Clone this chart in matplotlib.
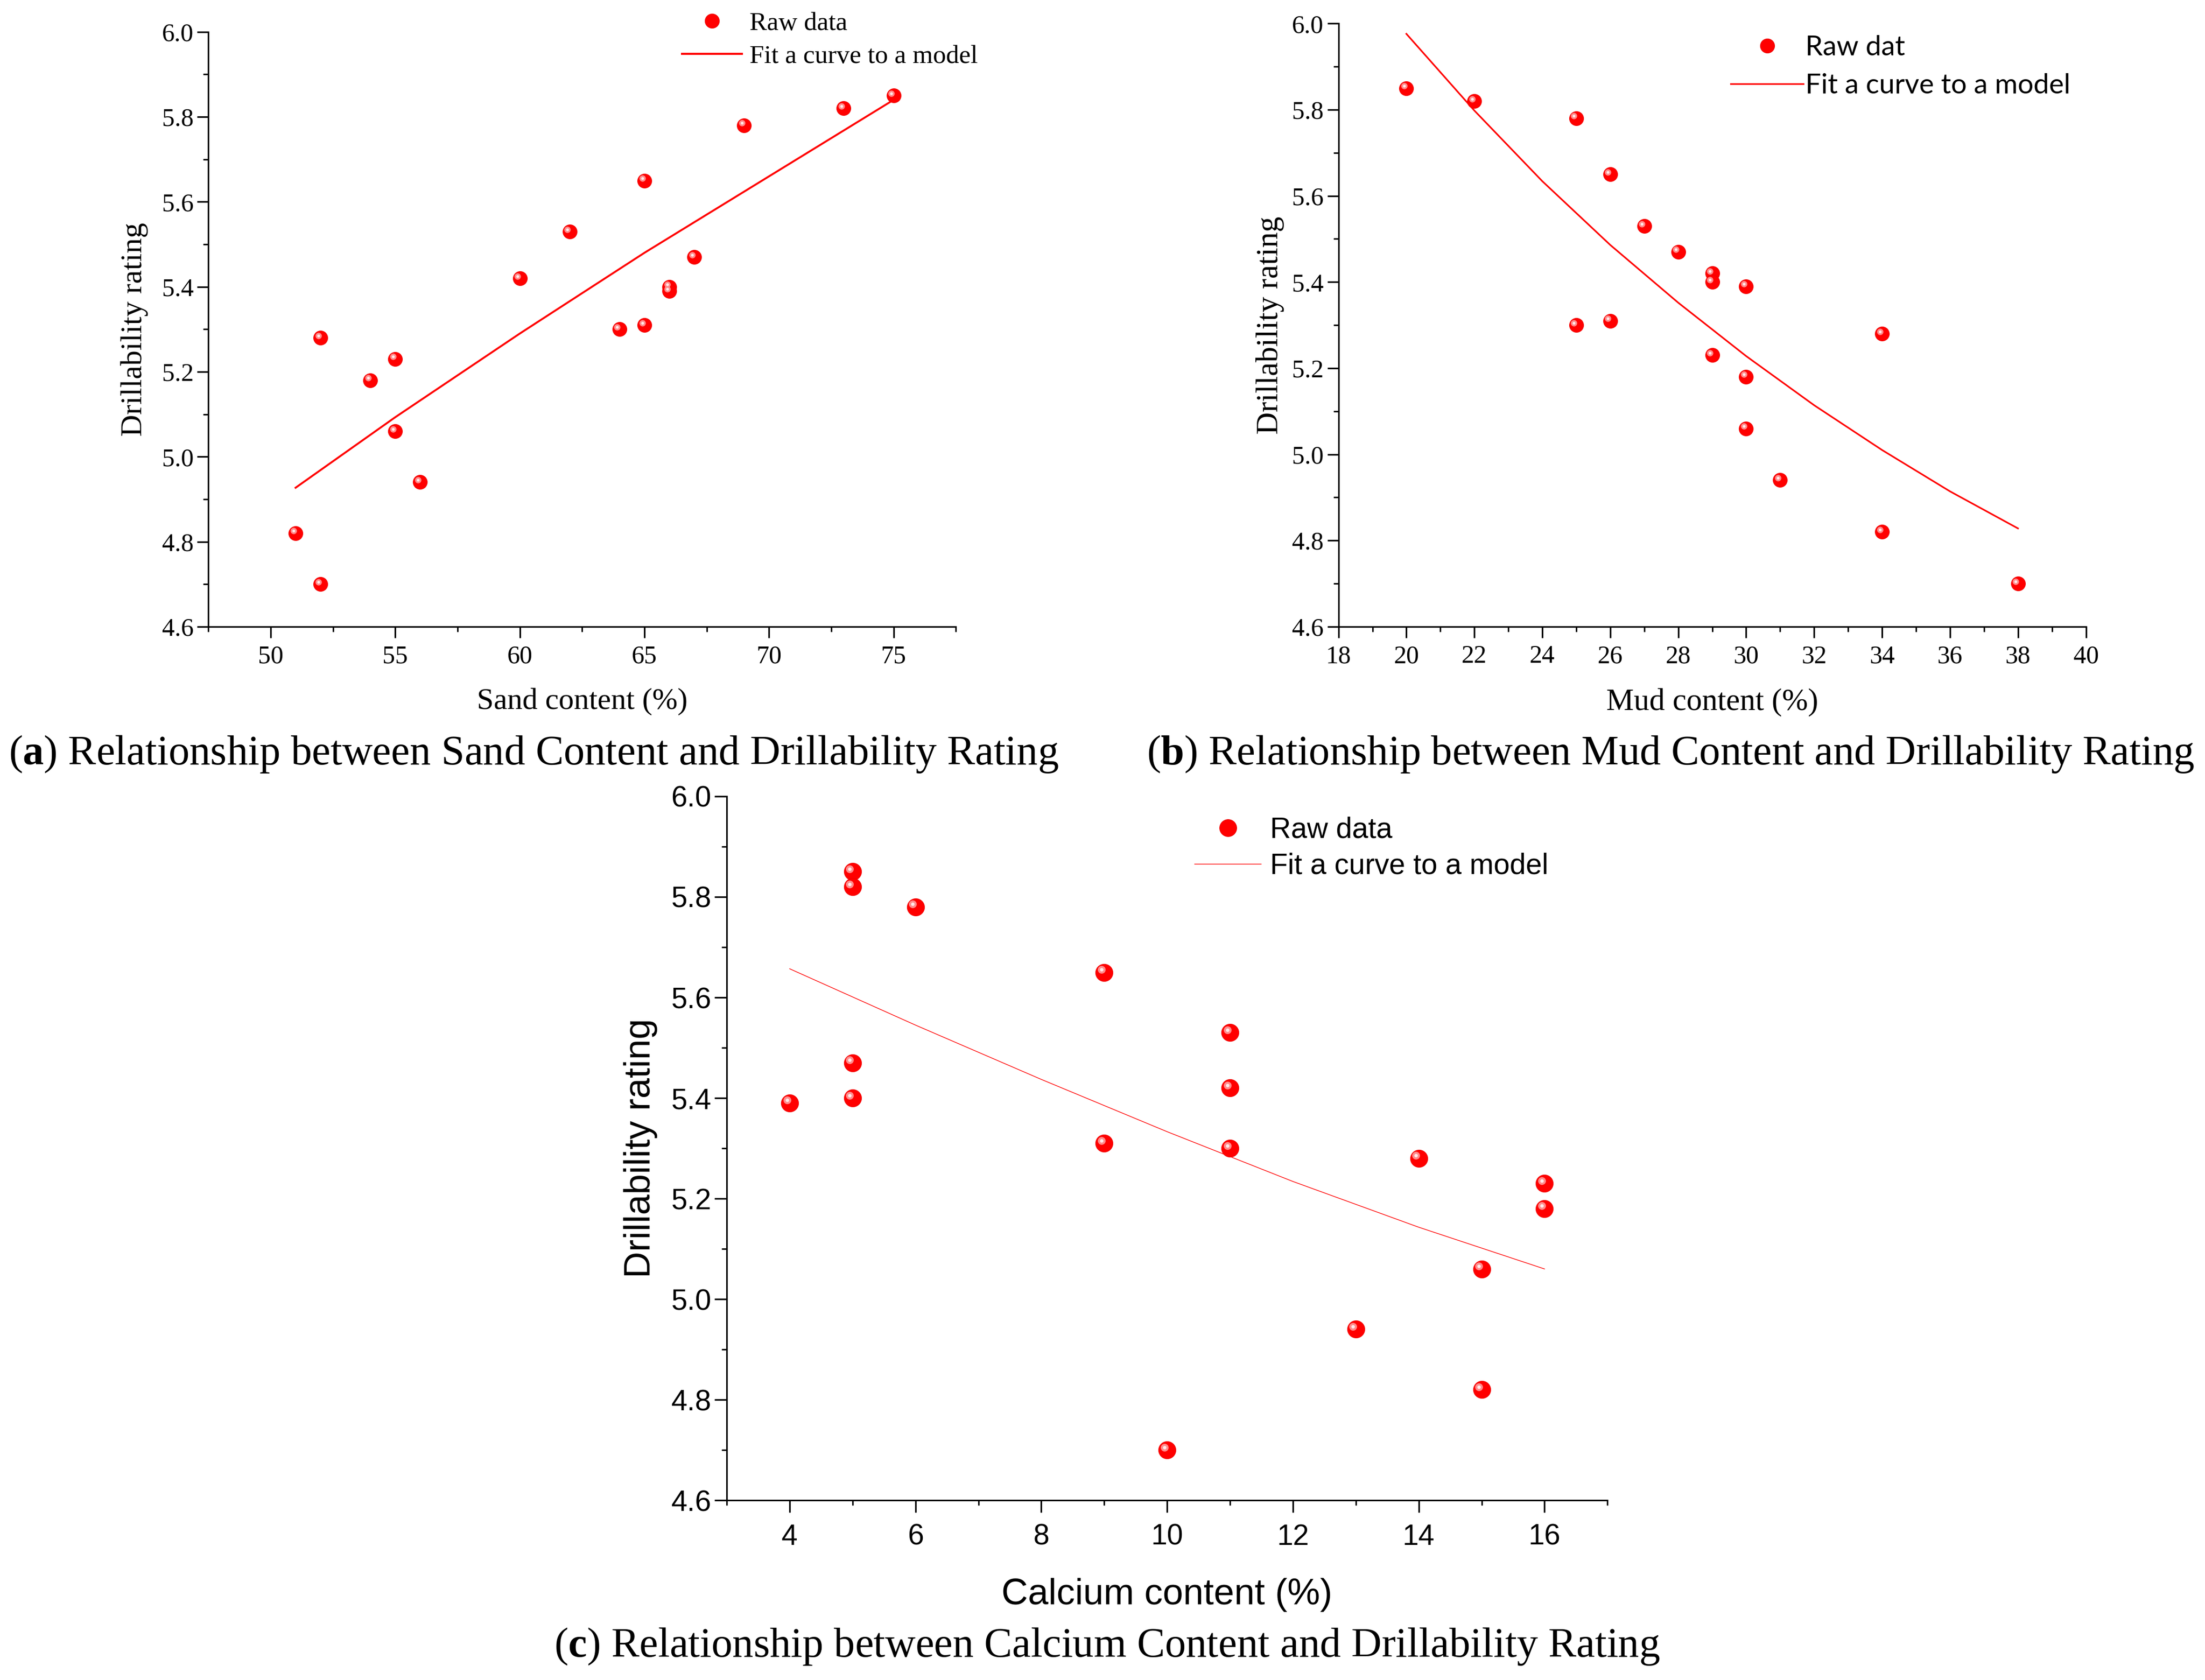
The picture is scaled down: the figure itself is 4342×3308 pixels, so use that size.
import numpy as np
import matplotlib
matplotlib.use("Agg")
import matplotlib.pyplot as plt
from matplotlib.ticker import MultipleLocator
from matplotlib.transforms import offset_copy

plt.rcParams['mathtext.fontset'] = 'custom'
plt.rcParams['mathtext.rm'] = 'Liberation Serif'
plt.rcParams['mathtext.bf'] = 'Liberation Serif:bold'

# ---------------- data ----------------
sand_x = [51, 52, 52, 54, 55, 55, 56, 60, 62, 64, 65, 65, 66, 66, 67, 69, 73, 75]
sand_y = [4.82, 4.70, 5.28, 5.18, 5.23, 5.06, 4.94, 5.42, 5.53, 5.30, 5.31, 5.65,
          5.40, 5.39, 5.47, 5.78, 5.82, 5.85]
sand_fit_x = [51, 55, 60, 65, 70, 75]
sand_fit_y = [4.927, 5.093, 5.29, 5.48, 5.66, 5.84]

mud_x = [20, 22, 25, 25, 26, 26, 27, 28, 29, 29, 29, 30, 30, 30, 31, 34, 34, 38]
mud_y = [5.85, 5.82, 5.78, 5.30, 5.65, 5.31, 5.53, 5.47, 5.42, 5.40, 5.23, 5.39,
         5.18, 5.06, 4.94, 5.28, 4.82, 4.70]
mud_fit_x = [20, 22, 24, 26, 28, 30, 32, 34, 36, 38]
mud_fit_y = [5.976, 5.798, 5.634, 5.486, 5.352, 5.228, 5.114, 5.010, 4.914, 4.828]

ca_x = [4, 5, 5, 5, 5, 6, 9, 9, 10, 11, 11, 11, 13, 14, 15, 15, 16, 16]
ca_y = [5.39, 5.85, 5.82, 5.47, 5.40, 5.78, 5.65, 5.31, 4.70, 5.53, 5.42, 5.30,
        4.94, 5.28, 5.06, 4.82, 5.23, 5.18]
ca_fit_x = [4, 6, 8, 10, 12, 14, 16]
ca_fit_y = [5.657, 5.545, 5.437, 5.333, 5.234, 5.143, 5.060]

y_ticks = [4.6, 4.8, 5.0, 5.2, 5.4, 5.6, 5.8, 6.0]

captions = ["Relationship between Sand Content and Drillability Rating",
            "Relationship between Mud Content and Drillability Rating",
            "Relationship between Calcium Content and Drillability Rating"]

DPI = 100
fig = plt.figure(figsize=(43.42, 33.08), dpi=DPI)

SERIF = 'Liberation Serif'
SANS = 'Liberation Sans'


def balls(ax, x, y, ms):
    ax.plot(x, y, 'o', ms=ms, mfc='#ff0000', mec='#f00000', mew=0.8,
            linestyle='none', zorder=3)
    tr = offset_copy(ax.transData, fig=fig, x=-ms * 0.16, y=ms * 0.16, units='points')
    ax.plot(x, y, 'o', ms=ms * 0.45, mfc='#ff8c8c', mec='none', linestyle='none',
            transform=tr, zorder=4)
    ax.plot(x, y, 'o', ms=ms * 0.2, mfc='#ffeaea', mec='none', linestyle='none',
            transform=tr, zorder=5)


def style_axes(ax, family, tsize, xmaj, xmin, xpad, major_len=16):
    for s in ['top', 'right']:
        ax.spines[s].set_visible(False)
    for s in ['left', 'bottom']:
        ax.spines[s].set_linewidth(2.2)
    ax.set_ylim(4.6, 6.0)
    ax.set_yticks(y_ticks)
    ax.yaxis.set_minor_locator(MultipleLocator(0.1))
    ax.xaxis.set_major_locator(MultipleLocator(xmaj))
    ax.xaxis.set_minor_locator(MultipleLocator(xmin))
    ax.tick_params(which='major', direction='out', length=major_len, width=2.3,
                   labelsize=tsize, pad=5)
    ax.tick_params(axis='x', which='major', pad=xpad)
    ax.tick_params(which='minor', direction='out', length=7.5, width=2.1)
    for lab in ax.get_xticklabels() + ax.get_yticklabels():
        lab.set_fontfamily(family)
    ax.yaxis.set_major_formatter(matplotlib.ticker.FormatStrFormatter('%.1f'))


def legend_ball(ax, ms):
    return ax.plot([], [], 'o', ms=ms, mfc='#ff0000', mec='#f00000', linestyle='none')[0]


# ---------------- (a) ----------------
axa = fig.add_axes([0.0945, 0.627, 0.339, 0.354])
axa.plot(sand_fit_x, sand_fit_y, color='#ff0000', lw=2.7, zorder=2)
balls(axa, sand_x, sand_y, 20)
axa.set_xlim(47.5, 77.5)
style_axes(axa, SERIF, 36, 5, 2.5, 10)
axa.set_xticks([50, 55, 60, 65, 70, 75])
axa.set_xlabel('Sand content (%)', family=SERIF, fontsize=43, labelpad=28)
axa.set_ylabel('Drillability rating', family=SERIF, fontsize=43, labelpad=19)
ha = [legend_ball(axa, 20), axa.plot([], [], color='#ff0000', lw=2.9)[0]]
axa.legend(ha, ['Raw data', 'Fit a curve to a model'], loc='upper left',
           bbox_to_anchor=(0.3093, 0.993), bbox_transform=fig.transFigure,
           frameon=False, borderpad=0, borderaxespad=0, handlelength=2.3,
           handletextpad=0.28, labelspacing=0.34, prop={'family': SERIF, 'size': 37})

# ---------------- (b) ----------------
axb = fig.add_axes([0.607, 0.627, 0.339, 0.359])
axb.plot(mud_fit_x, mud_fit_y, color='#ff0000', lw=2.3, zorder=2)
balls(axb, mud_x, mud_y, 20)
axb.set_xlim(18, 40)
style_axes(axb, SERIF, 36, 2, 1, 10)
axb.set_xlabel('Mud content (%)', family=SERIF, fontsize=44, labelpad=28)
axb.set_ylabel('Drillability rating', family=SERIF, fontsize=44, labelpad=11)
hb = [legend_ball(axb, 20), axb.plot([], [], color='#ff0000', lw=2.3)[0]]
axb.legend(hb, ['Raw dat', 'Fit a curve to a model'], loc='upper left',
           bbox_to_anchor=(0.785, 0.979), bbox_transform=fig.transFigure,
           frameon=False, borderpad=0, borderaxespad=0, handlelength=2.6,
           handletextpad=0.08, labelspacing=0.46, prop={'family': 'Lato', 'size': 39.5})

# ---------------- (c) ----------------
axc = fig.add_axes([0.3296, 0.107, 0.3994, 0.419])
axc.plot(ca_fit_x, ca_fit_y, color='#ff0000', lw=1.0, zorder=2)
balls(axc, ca_x, ca_y, 24.5)
axc.set_xlim(3, 17)
style_axes(axc, SANS, 41, 2, 1, 16, major_len=17)
axc.set_xlabel('Calcium content (%)', family=SANS, fontsize=52, labelpad=38)
axc.set_ylabel('Drillability rating', family=SANS, fontsize=52, labelpad=19)
hc = [legend_ball(axc, 24), axc.plot([], [], color='#ff0000', lw=1.0)[0]]
axc.legend(hc, ['Raw data', 'Fit a curve to a model'], loc='upper left',
           bbox_to_anchor=(0.5418, 0.514), bbox_transform=fig.transFigure,
           frameon=False, borderpad=0, borderaxespad=0, handlelength=2.3,
           handletextpad=0.3, labelspacing=0.3, prop={'family': SANS, 'size': 41})

# ---------------- captions ----------------
CAP = 59.5
fig.text(0.004, 0.551, '(' + r'$\mathbf{a}$' + ') ' + captions[0], family=SERIF,
         fontsize=CAP, ha='left', va='center')
fig.text(0.520, 0.551, '(' + r'$\mathbf{b}$' + ') ' + captions[1], family=SERIF,
         fontsize=CAP, ha='left', va='center')
fig.text(0.502, 0.020, '(' + r'$\mathbf{c}$' + ') ' + captions[2], family=SERIF,
         fontsize=CAP, ha='center', va='center')

fig.savefig('out.png', dpi=DPI)
